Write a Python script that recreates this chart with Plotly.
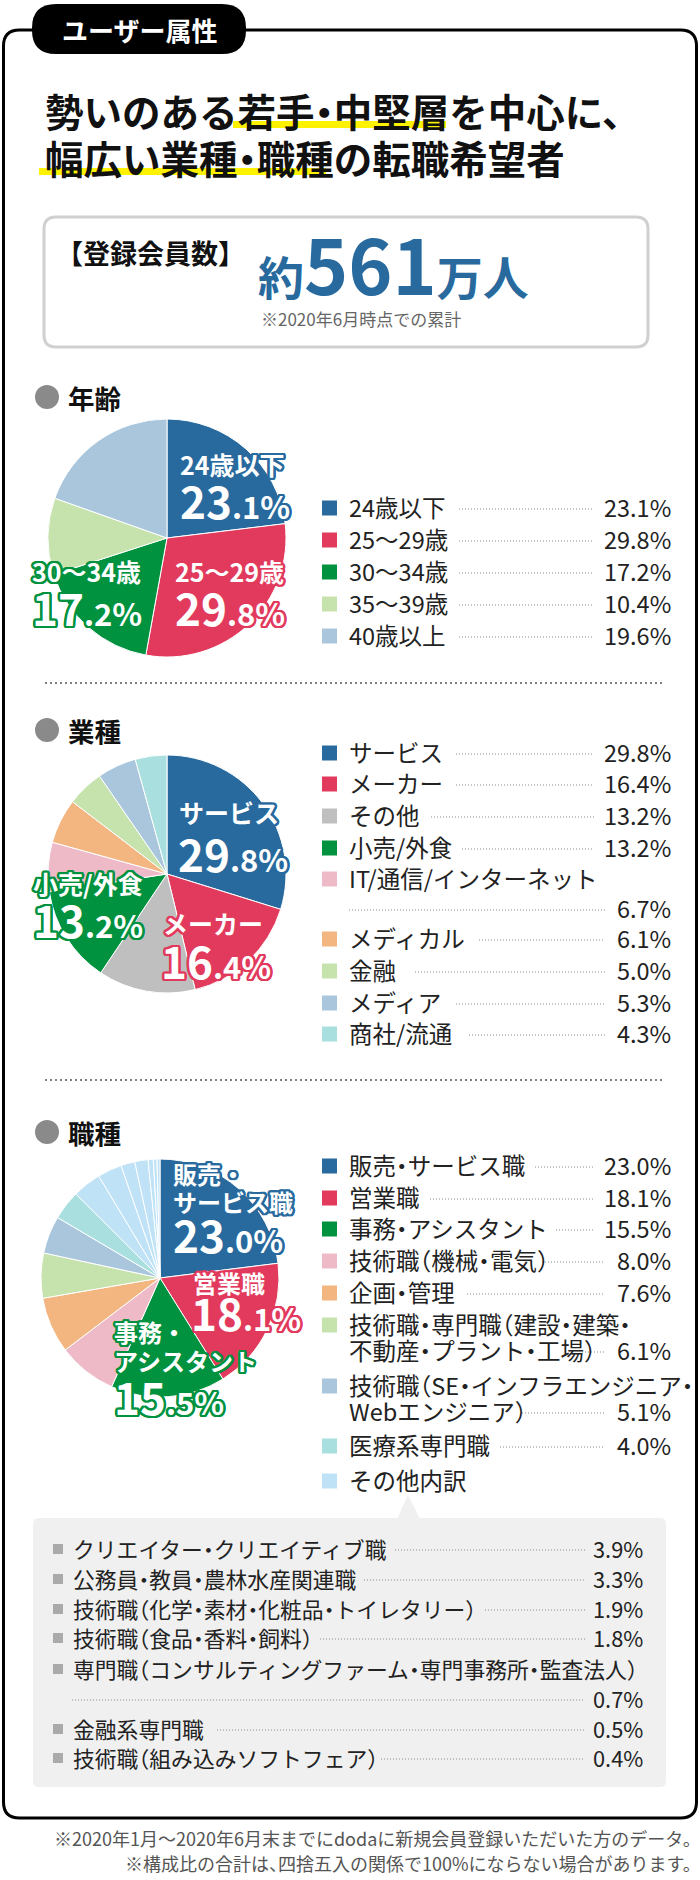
import math
import plotly.graph_objects as go

W, H = 700, 1880
FONT = "Noto Sans CJK JP"

# ---------------- data ----------------
total_members = 561
age_labels = ["24歳以下", "25～29歳", "30～34歳", "35～39歳", "40歳以上"]
age_values = [23.1, 29.8, 17.2, 10.4, 19.6]

ind_labels = ["サービス", "メーカー", "その他", "小売/外食", "IT/通信/インターネット",
              "メディカル", "金融", "メディア", "商社/流通"]
ind_values = [29.8, 16.4, 13.2, 13.2, 6.7, 6.1, 5.0, 5.3, 4.3]

job_labels = ["販売・サービス職", "営業職", "事務・アシスタント", "技術職（機械・電気）", "企画・管理",
              "技術職・専門職（建設・建築・|不動産・プラント・工場）",
              "技術職（SE・インフラエンジニア・|Webエンジニア）", "医療系専門職"]
job_values = [23.0, 18.1, 15.5, 8.0, 7.6, 6.1, 5.1, 4.0]
other_title = "その他内訳"
other_labels = ["クリエイター・クリエイティブ職", "公務員・教員・農林水産関連職",
                "技術職（化学・素材・化粧品・トイレタリー）", "技術職（食品・香料・飼料）",
                "専門職（コンサルティングファーム・専門事務所・監査法人）", "金融系専門職",
                "技術職（組み込みソフトフェア）"]
other_values = [3.9, 3.3, 1.9, 1.8, 0.7, 0.5, 0.4]

# ---------------- styles ----------------
BLUE, RED, GREEN = "#286a9e", "#e23a5c", "#00923f"
LGREEN, LBLUE, GRAY = "#c6e2ad", "#a9c6dc", "#bfbfbf"
PINK, ORANGE, TEAL, SKY = "#efbac8", "#f3b681", "#a9dfdf", "#bfe2f7"
age_colors = [BLUE, RED, GREEN, LGREEN, LBLUE]
ind_colors = [BLUE, RED, GRAY, GREEN, PINK, ORANGE, LGREEN, LBLUE, TEAL]
job_colors = [BLUE, RED, GREEN, PINK, ORANGE, LGREEN, LBLUE, TEAL]

fig = go.Figure()


def dom(cx, cy, r):
    return dict(x=[(cx - r) / W, (cx + r) / W], y=[1 - (cy + r) / H, 1 - (cy - r) / H])


def add_pie(labels, values, colors, cx, cy, r):
    fig.add_trace(go.Pie(labels=labels, values=values, sort=False, direction="clockwise",
                         rotation=0, textinfo="none", hoverinfo="label+value",
                         marker=dict(colors=colors, line=dict(color="white", width=1)),
                         domain=dom(cx, cy, r), showlegend=False))


add_pie(age_labels, age_values, age_colors, 167, 538, 119)
add_pie(ind_labels, ind_values, ind_colors, 167, 874, 119)
add_pie([l.replace("|", "") for l in job_labels] + other_labels, job_values + other_values,
        job_colors + [SKY] * len(other_values), 160, 1278, 119)

shapes = []
annotations = []


def rrect_path(x0, y0, x1, y1, r):
    return (f"M{x0+r},{y0} L{x1-r},{y0} Q{x1},{y0} {x1},{y0+r} L{x1},{y1-r} "
            f"Q{x1},{y1} {x1-r},{y1} L{x0+r},{y1} Q{x0},{y1} {x0},{y1-r} "
            f"L{x0},{y0+r} Q{x0},{y0} {x0+r},{y0} Z")


def rrect(x0, y0, x1, y1, r, fill=None, line=None, lw=0):
    shapes.append(dict(type="path", xref="x", yref="y", path=rrect_path(x0, y0, x1, y1, r),
                       fillcolor=fill if fill else "rgba(0,0,0,0)",
                       line=dict(color=line if line else "rgba(0,0,0,0)", width=lw), layer="below"))


def rect(x0, y0, x1, y1, fill):
    shapes.append(dict(type="rect", xref="x", yref="y", x0=x0, y0=y0, x1=x1, y1=y1,
                       fillcolor=fill, line=dict(width=0), layer="below"))


def hline(x0, x1, y, color="#8a8a8a", dash="1px,2px", width=1):
    shapes.append(dict(type="line", xref="x", yref="y", x0=x0, x1=x1, y0=y, y1=y,
                       line=dict(color=color, width=width, dash=dash), layer="below"))


def text(x, y, t, size, color="#222", xanchor="left", yanchor="middle", bold=False,
         shadow=None, halt=False):
    f = dict(family=FONT, size=size, color=color, weight=700 if bold else 400)
    if shadow:
        f["shadow"] = shadow
    if halt:
        t = f"<span style='font-feature-settings:\"halt\" 1'>{t}</span>"
    annotations.append(dict(x=x, y=y, xref="x", yref="y", text=t, showarrow=False,
                            xanchor=xanchor, yanchor=yanchor, font=f, align="left",
                            borderpad=0))


def outline(c, w=2.4):
    parts = []
    for k in range(16):
        a = 2 * math.pi * k / 16
        parts.append(f"{w*math.cos(a):.2f}px {w*math.sin(a):.2f}px 0 {c}")
    return ", ".join(parts)


def big_pct(v, small=31):
    s = f"{v:.1f}"
    ip, dp = s.split(".")
    return f"{ip}<span style='font-size:{small}px'>.{dp}%</span>"


# ---------------- frame ----------------
rrect(3.5, 30, 696.5, 1818, 16, fill="white", line="#000", lw=3)
rrect(32, 4, 246, 54, 24, fill="#000")
text(139, 29, "ユーザー属性", 26, color="white", xanchor="center", bold=True)

# headline
rect(233, 121, 446, 128, "#fff200")
rect(39, 168, 326, 175, "#fff200")
text(44, 110, "勢いのある若手・中堅層を中心に、", 38.5, color="#111", bold=True, halt=True)
text(44, 157, "幅広い業種・職種の転職希望者", 38.5, color="#111", bold=True, halt=True)

# registration box
rrect(44, 217, 648, 347, 12, fill="white", line="#d0d0d0", lw=3)
text(150, 252, "【登録会員数】", 27, color="#111", xanchor="center", bold=True)
text(257, 262, f"約<span style='font-size:75px'>{total_members}</span>万人", 46,
     color=BLUE, bold=True)
text(260, 318, "※2020年6月時点での累計", 17, color="#666")


# section headers
def section(y, title):
    shapes.append(dict(type="circle", xref="x", yref="y", x0=35, x1=59, y0=y - 12, y1=y + 12,
                       fillcolor="#8a8a8a", line=dict(width=0), layer="below"))
    text(67, y, title, 26.5, color="#111", bold=True)


section(397, "年齢")
section(730, "業種")
section(1132, "職種")
hline(45, 662, 683, color="#555", dash="2px,3px", width=1.5)
hline(45, 662, 1080, color="#555", dash="2px,3px", width=1.5)

PCT_X = 672
LEG_SIZE = 23.5


def legend_row(y_name, y_val, name_lines, color, v, x0_lead, sq=15, size=LEG_SIZE, sx=322,
               tx=348, px=PCT_X, lead_end=None):
    if color is not None:
        rect(sx, y_name - sq / 2 + 1, sx + sq, y_name + sq / 2 + 1, color)
    for i, ln in enumerate(name_lines):
        text(tx, y_name + i * 26, ln, size, color="#222", halt=True)
    if v is not None:
        xe = lead_end if lead_end else (594 if v >= 10 else 605)
        hline(x0_lead, xe, y_val + 2)
        text(px, y_val, f"{v:.1f}%", size, color="#222", xanchor="right")


# legend 1 (age)
age_rows = [507, 539, 571, 603, 635]
for i, (lab, v) in enumerate(zip(age_labels, age_values)):
    legend_row(age_rows[i], age_rows[i], [lab], age_colors[i], v, 459)

# legend 2 (industry)
ind_rows = [752, 783, 815, 847, 878, 938, 970, 1002, 1033]
ind_vrows = [752, 783, 815, 847, 908, 938, 970, 1002, 1033]
ind_lead = [456, 456, 431, 462, 349, 479, 415, 456, 469]
for i, (lab, v) in enumerate(zip(ind_labels, ind_values)):
    legend_row(ind_rows[i], ind_vrows[i], [lab], ind_colors[i], v, ind_lead[i])

# legend 3 (job)
job_rows = [1165, 1197, 1228, 1260, 1292, 1324, 1385, 1445]
job_lead = [535, 430, 556, 542, 467, 582, 522, 500]
for i, (lab, v) in enumerate(zip(job_labels, job_values)):
    lines = lab.split("|")
    yv = job_rows[i] + 26 * (len(lines) - 1)
    legend_row(job_rows[i], yv, lines, job_colors[i], v, job_lead[i])
legend_row(1480, 1480, [other_title], SKY, None, 0)

# other breakdown box
rrect(33, 1518, 666, 1787, 6, fill="#f0f0f0")
shapes.append(dict(type="path", xref="x", yref="y", path="M397,1519 L408,1495 L420,1519 Z",
                   fillcolor="#f0f0f0", line=dict(width=0), layer="below"))
oth_rows = [1548, 1578, 1608, 1637, 1668, 1728, 1757]
oth_vrows = [1548, 1578, 1608, 1637, 1698, 1728, 1757]
oth_lead = [395, 364, 485, 320, 72, 217, 381]
for i, (lab, v) in enumerate(zip(other_labels, other_values)):
    legend_row(oth_rows[i], oth_vrows[i], [lab], "#aaaaaa", v, oth_lead[i], sq=10, size=21.8,
               sx=53, tx=72, px=644, lead_end=585)

# ---------------- pie labels ----------------
# age
text(179, 464, age_labels[0], 25, color="white", bold=True, shadow=outline(BLUE))
text(179, 500, big_pct(age_values[0]), 44, color="white", bold=True, shadow=outline(BLUE))
text(174, 571, age_labels[1], 25, color="white", bold=True, shadow=outline(RED))
text(174, 607, big_pct(age_values[1]), 44, color="white", bold=True, shadow=outline(RED))
text(31, 571, age_labels[2], 25, color="white", bold=True, shadow=outline(GREEN))
text(31, 607, big_pct(age_values[2]), 44, color="white", bold=True, shadow=outline(GREEN))
# industry
text(178, 812, ind_labels[0], 25, color="white", bold=True, shadow=outline(BLUE))
text(177, 853, big_pct(ind_values[0]), 44, color="white", bold=True, shadow=outline(BLUE))
text(162, 923, ind_labels[1], 25, color="white", bold=True, shadow=outline(RED))
text(160, 960, big_pct(ind_values[1]), 44, color="white", bold=True, shadow=outline(RED))
text(32, 883, ind_labels[3], 25, color="white", bold=True, shadow=outline(GREEN))
text(32, 919, big_pct(ind_values[3]), 44, color="white", bold=True, shadow=outline(GREEN))
# job
j0a, j0b = job_labels[0].split("・", 1)
text(172, 1173, j0a + "・", 24, color="white", bold=True, shadow=outline(BLUE))
text(172, 1201, j0b, 24, color="white", bold=True, shadow=outline(BLUE))
text(172, 1234, big_pct(job_values[0]), 44, color="white", bold=True, shadow=outline(BLUE))
text(192, 1282, job_labels[1], 24, color="white", bold=True, shadow=outline(RED))
text(190, 1312, big_pct(job_values[1]), 44, color="white", bold=True, shadow=outline(RED))
j2a, j2b = job_labels[2].split("・", 1)
text(113, 1331, j2a + "・", 24, color="white", bold=True, shadow=outline(GREEN))
text(113, 1360, j2b, 24, color="white", bold=True, shadow=outline(GREEN))
text(113, 1396, big_pct(job_values[2]), 44, color="white", bold=True, shadow=outline(GREEN))

# footer
text(693, 1838, "※2020年1月～2020年6月末までにdodaに新規会員登録いただいた方のデータ。", 18,
     color="#555", xanchor="right", halt=True)
text(693, 1863, "※構成比の合計は、四捨五入の関係で100%にならない場合があります。", 18,
     color="#555", xanchor="right", halt=True)

fig.update_layout(
    width=W, height=H, margin=dict(l=0, r=0, t=0, b=0),
    paper_bgcolor="white", plot_bgcolor="white",
    xaxis=dict(range=[0, W], visible=False, fixedrange=True, domain=[0, 1]),
    yaxis=dict(range=[H, 0], visible=False, fixedrange=True, domain=[0, 1]),
    shapes=shapes, annotations=annotations, showlegend=False,
    font=dict(family=FONT),
)

fig.write_html("out.html", config={"displayModeBar": False},
               post_script="document.body.style.margin='0';document.body.style.padding='0';")
